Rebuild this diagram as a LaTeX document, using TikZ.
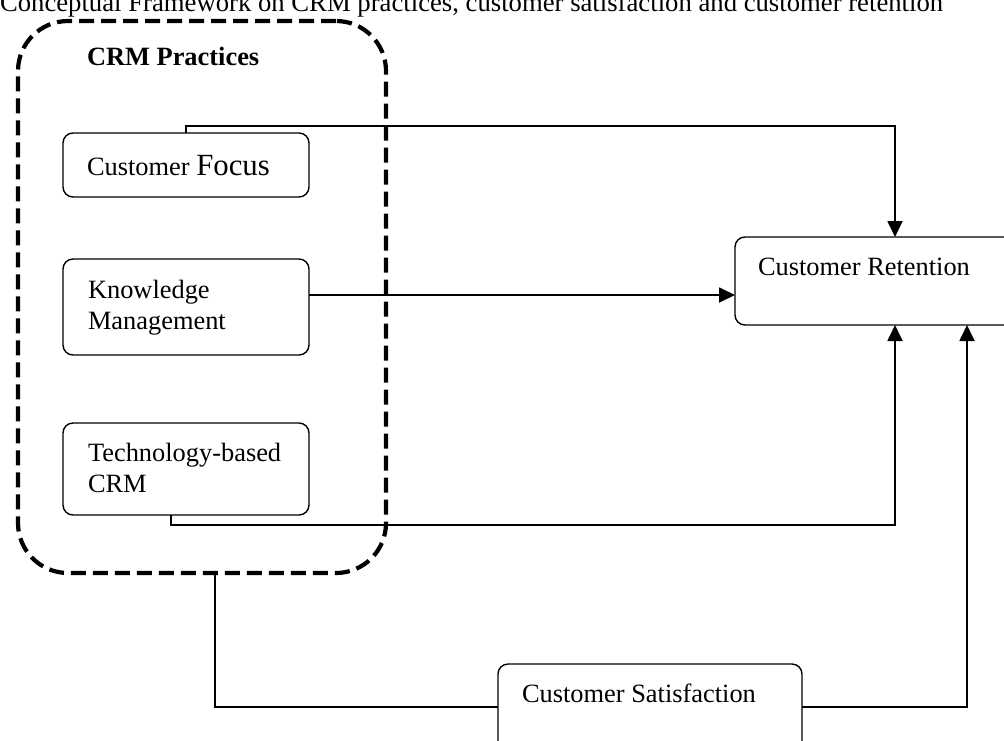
\documentclass[tikz,border=0pt]{standalone}
\usepackage{fontspec}
\setmainfont{Liberation Serif}
\usetikzlibrary{arrows.meta}
\begin{document}
\begin{tikzpicture}[x=1pt,y=-1pt,
  every node/.style={inner sep=0pt, outer sep=0pt},
  txt/.style={anchor=base west, font=\fontsize{26.4}{30.4}\selectfont, align=left},
  box/.style={draw, line width=1.4pt, rounded corners=10pt},
  conn/.style={line width=1.8pt},
  arr/.style={conn, -{Triangle[length=16pt,width=15pt]}},
  group/.style={draw, line width=4.2pt, dash pattern=on 15pt off 7pt, rounded corners=50pt}]

\useasboundingbox (0,0) rectangle (1004,740);
\clip (0,0) rectangle (1004,740);

% title
\node[txt, font=\fontsize{26.7}{30.4}\selectfont] (title) at (0,11) {Conceptual Framework on CRM practices, customer satisfaction and customer retention};

% CRM practices group
\node[group, minimum width=368pt, minimum height=552pt] (crm) at (202,297) {};
\node[txt, font=\fontsize{26.4}{30.4}\selectfont\bfseries] (crmlbl) at (87,65) {CRM Practices};

% practice boxes (multi-line labels sit on the baseline of their last line)
\node[box, minimum width=246pt, minimum height=64pt] (cf) at (186,165) {};
\node[txt] (cftxt) at (87,175) {Customer {\fontsize{30.8}{34}\selectfont Focus}};

\node[box, minimum width=246pt, minimum height=96pt] (km) at (186,307) {};
\node[txt] (kmtxt) at (88,329) {Knowledge\\Management};

\node[box, minimum width=246pt, minimum height=92pt] (tb) at (186,469) {};
\node[txt] (tbtxt) at (88,492) {Technology-based\\CRM};

% outcome boxes
\node[box, minimum width=280pt, minimum height=88pt] (cr) at (875,281) {};
\node[txt] (crtxt) at (758,275) {Customer Retention};

\node[box, minimum width=304pt, minimum height=96pt] (cs) at (650,712) {};
\node[txt] (cstxt) at (522,702) {Customer Satisfaction};

% routing points
\coordinate (p1) at (895,126);
\coordinate (p2) at (895,525);
\coordinate (p3) at (967,707);
\coordinate (p4) at (215,707);
\coordinate (kmy) at (0,295);
\coordinate (tbx) at (171,0);

% connectors
\draw[arr] (cf.north) |- (p1) -- (p1 |- cr.north);
\draw[arr] (km.east |- kmy) -- (cr.west |- kmy);
\draw[arr] (tb.south -| tbx) |- (p2) -- (p2 |- cr.south);
\draw[conn] (crm.south -| p4) -- (p4) -- (cs.west |- p4);
\draw[arr] (cs.east |- p3) -- (p3) -- (p3 |- cr.south);
\end{tikzpicture}
\end{document}
